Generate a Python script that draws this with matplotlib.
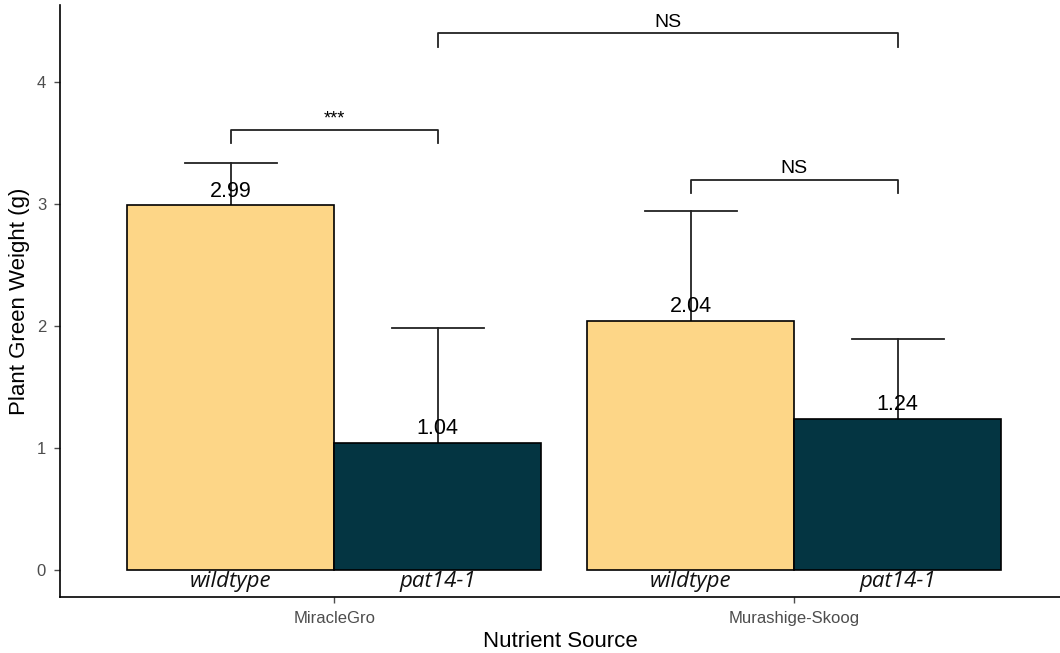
import numpy as np
import matplotlib.pyplot as plt

# mean plant green weight per nutrient source and genotype
sources = ["MiracleGro", "Murashige-Skoog"]
genotypes = ["wildtype", "pat14-1"]
means = {"wildtype": [2.99, 2.04], "pat14-1": [1.04, 1.24]}
upper = {"wildtype": [3.34, 2.94], "pat14-1": [1.98, 1.89]}
colors = {"wildtype": "#FDD687", "pat14-1": "#043542"}

# significance brackets: (left bar, right bar, height, label)
brackets = [
    ((0, "wildtype"), (0, "pat14-1"), 3.61, "***"),
    ((0, "pat14-1"), (1, "pat14-1"), 4.40, "NS"),
    ((1, "wildtype"), (1, "pat14-1"), 3.20, "NS"),
]

plt.rcParams["font.family"] = ["Liberation Sans", "DejaVu Sans"]

fig = plt.figure(figsize=(10.6, 6.53), dpi=100)
ax = fig.add_axes([60 / 1060, 56 / 653, 1000 / 1060, 592 / 653])

x = np.arange(1, len(sources) + 1)
width = 0.45
offsets = {"wildtype": -width / 2, "pat14-1": width / 2}

def bar_x(i, g):
    return x[i] + offsets[g]

for g in genotypes:
    xs = x + offsets[g]
    # error bars drawn first so the bars hide the lower half
    for xi, m, u in zip(xs, means[g], upper[g]):
        ax.plot([xi, xi], [m, u], color="#222222", lw=1.3, zorder=1)
        ax.plot([xi - 0.1, xi + 0.1], [u, u], color="#222222", lw=1.3, zorder=1)
    ax.bar(xs, means[g], width=width, color=colors[g], edgecolor="black",
           linewidth=1.2, zorder=2)
    for xi, m in zip(xs, means[g]):
        ax.text(xi, m + 0.03, f"{m:.2f}", ha="center", va="bottom",
                fontsize=15.5, color="black", zorder=4)
        ax.text(xi, -0.095, g, ha="center", va="center", fontsize=16,
                style="italic", family=["Open Sans", "DejaVu Sans"], color="#111111")

for (i1, g1), (i2, g2), h, lab in brackets:
    x1, x2 = bar_x(i1, g1), bar_x(i2, g2)
    ax.plot([x1, x1, x2, x2], [h - 0.11, h, h, h - 0.11], color="#222222",
            lw=1.3, zorder=3)
    ax.text((x1 + x2) / 2, h + 0.02, lab, ha="center", va="bottom",
            fontsize=14 if lab == "NS" else 13, color="black")

ax.set_xlim(0.404, 0.404 + 1000 / 460)
ax.set_ylim(-0.221, 4.631)
ax.set_xticks(x)
ax.set_xticklabels(sources)
ax.set_yticks([0, 1, 2, 3, 4])
ax.tick_params(axis="both", colors="#4D4D4D", labelsize=12, length=4, width=1)
ax.tick_params(axis="x", labelcolor="#4D4D4D", pad=6)
ax.tick_params(axis="y", labelcolor="#4D4D4D", pad=6)

for side in ["top", "right"]:
    ax.spines[side].set_visible(False)
for side in ["left", "bottom"]:
    ax.spines[side].set_linewidth(1.2)
    ax.spines[side].set_color("black")

ax.set_xlabel("Nutrient Source", fontsize=16, labelpad=4)
ax.set_ylabel("Plant Green Weight (g)", fontsize=16, labelpad=5)

fig.savefig("out.png", dpi=100)
